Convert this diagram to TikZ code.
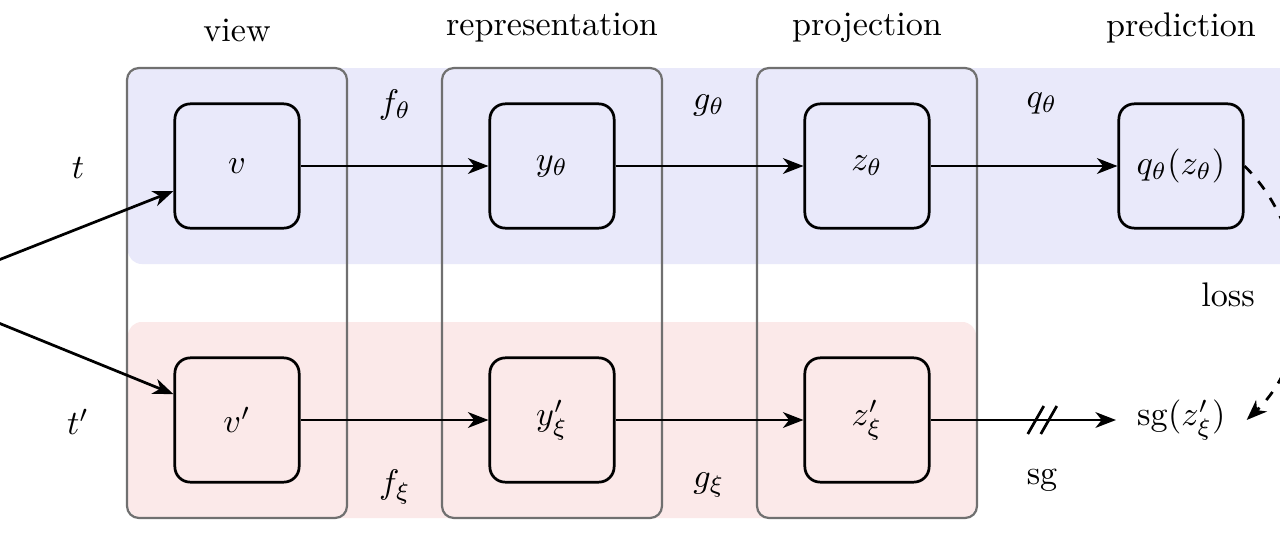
\documentclass[tikz,border=0pt]{standalone}
\definecolor{onlineblue}{RGB}{233,233,250}
\definecolor{targetpink}{RGB}{251,233,233}
\definecolor{stagegray}{RGB}{112,112,112}
\usepackage{amsmath}
\usetikzlibrary{arrows.meta,positioning,calc}

\begin{document}
\begin{tikzpicture}[x=0.0103cm, y=-0.0103cm,
    unit/.style={draw, thick, rounded corners=4.5pt, minimum width=1.28cm, minimum height=1.28cm},
    stage/.style={draw=stagegray, line width=0.65pt, rounded corners=3.5pt},
    flow/.style={-{Stealth[length=6pt,width=4.6pt,inset=1.8pt]}, thick}]
  \useasboundingbox (0,0) rectangle (1280,543);
  \clip (0,0) rectangle (1280,543);

  % online and target bands
  \fill[onlineblue, rounded corners=4pt] (128,68) rectangle (1330,264);
  \fill[targetpink, rounded corners=4pt] (128,322) rectangle (976,518);

  % stage columns
  \foreach \x in {127,442,757}
    \draw[stage] (\x,68) rectangle ++(220,450);

  \node (view) at (237,30) {view};
  \node (repr) at (552,28) {representation};
  \node (proj) at (867,28) {projection};
  \node (pred) at (1181,28) {prediction};

  \node[unit] (v)  at (237,166) {$v$};
  \node[unit] (y)  at (552,166) {$y_\theta$};
  \node[unit] (z)  at (867,166) {$z_\theta$};
  \node[unit] (q)  at (1181,166) {$q_\theta(z_\theta)$};
  \node[unit] (vp) at (237,420) {$v'$};
  \node[unit] (yp) at (552,420) {$y'_\xi$};
  \node[unit] (zp) at (867,420) {$z'_\xi$};
  \node[inner sep=6pt, anchor=west] (sg) at (1116,420) {$\mathrm{sg}(z'_\xi)$};

  \node (t)  at (78,168) {$t$};
  \node (tp) at (78,422) {$t'$};
  \node (ftheta) at (395,105) {$f_\theta$};
  \node (gtheta) at (709,105) {$g_\theta$};
  \node (qtheta) at (1042,103) {$q_\theta$};
  \node (fxi) at (395,487) {$f_\xi$};
  \node (gxi) at (709,485) {$g_\xi$};
  \node (sglab) at (1042,480) {sg};
  \node (loss) at (1228,295) {loss};

  % input image (off the left edge)
  \coordinate (img) at (-80,291);
  \draw[flow] (img) -- (v);
  \draw[flow] (img) -- (vp);

  \draw[flow] (v) -- (y);
  \draw[flow] (y) -- (z);
  \draw[flow] (z) -- (q);
  \draw[flow] (vp) -- (yp);
  \draw[flow] (yp) -- (zp);
  \draw[flow] (zp.east) -- coordinate[pos=0.6] (cut) (sg.west);
  \draw[thick] ($(cut)+(-14,14)$) -- ++(16,-28);
  \draw[thick] ($(cut)+(-1,14)$) -- ++(16,-28);

  \draw[flow, dashed] (q.east) .. controls (1310,230) and (1320,350) .. (sg.east);
\end{tikzpicture}
\end{document}
